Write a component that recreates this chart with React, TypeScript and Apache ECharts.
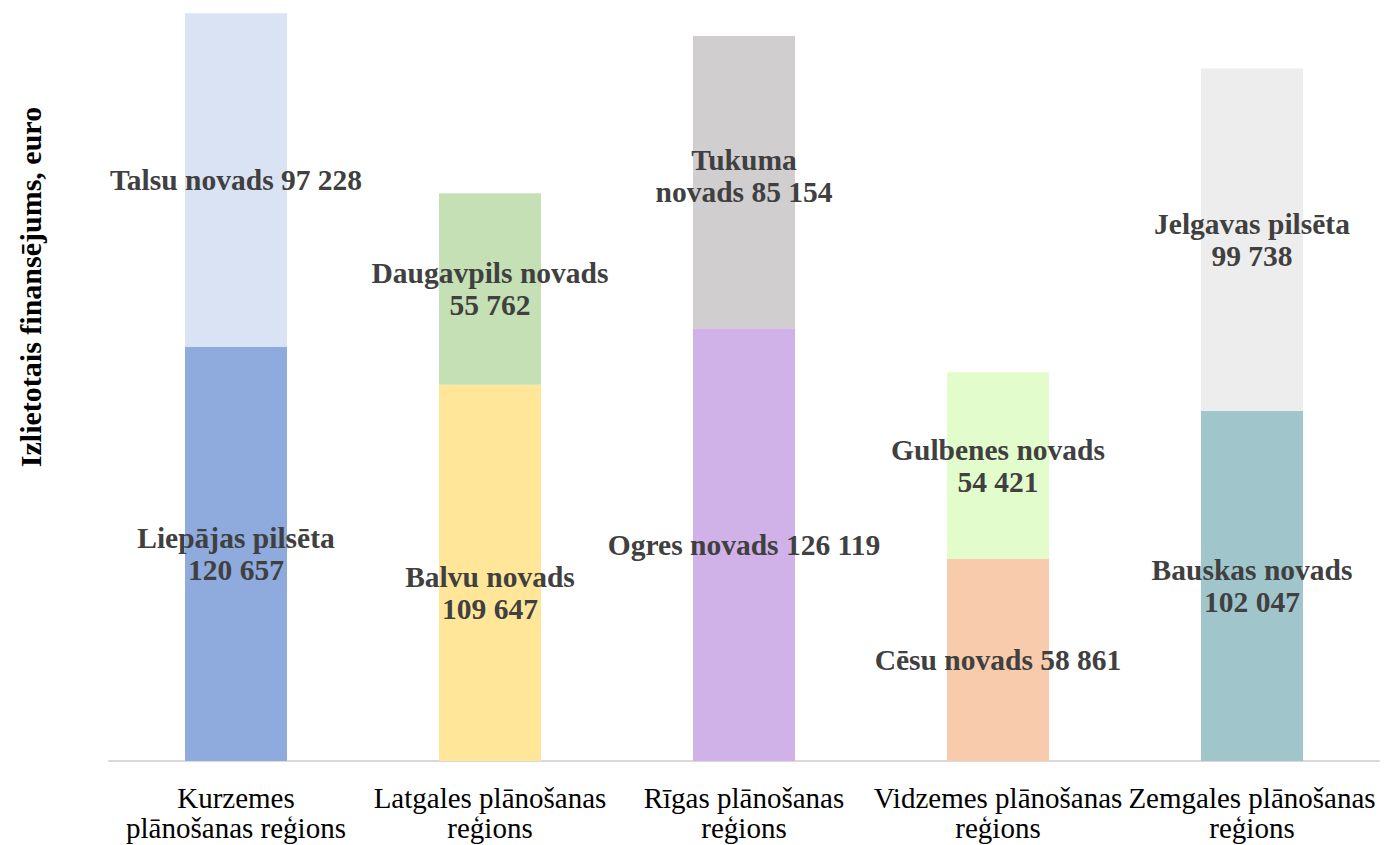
import React, { useEffect, useRef } from "react";
import * as echarts from "echarts";

const categories = [
  "Kurzemes\nplānošanas reģions",
  "Latgales plānošanas\nreģions",
  "Rīgas plānošanas\nreģions",
  "Vidzemes plānošanas\nreģions",
  "Zemgales plānošanas\nreģions",
];

const bottomNames = ["Liepājas pilsēta", "Balvu novads", "Ogres novads", "Cēsu novads", "Bauskas novads"];
const bottomValues = [120657, 109647, 126119, 58861, 102047];
const bottomBreak = [true, true, false, false, true];
const bottomColors = ["#8faadc", "#ffe699", "#d0b1e8", "#f8cbad", "#a0c6cc"];

const topNames = ["Talsu novads", "Daugavpils novads", "Tukuma\nnovads", "Gulbenes novads", "Jelgavas pilsēta"];
const topValues = [97228, 55762, 85154, 54421, 99738];
const topBreak = [false, true, false, true, true];
const topColors = ["#dae3f3", "#c5e0b4", "#d0cece", "#e2fccc", "#ededed"];

const yTitle = "Izlietotais finansējums, euro";

const fmt = (v: number) => String(v).replace(/\B(?=(\d{3})+(?!\d))/g, " ");
const FONT = "'Liberation Serif', 'Times New Roman', serif";

function buildData(names: string[], values: number[], breaks: boolean[], colors: string[], offsets?: number[][]) {
  return values.map((v, i) => ({
    value: v,
    itemStyle: { color: colors[i] },
    label: {
      formatter: names[i] + (breaks[i] ? "\n" : " ") + fmt(v),
      offset: offsets ? offsets[i] : [0, 0],
    },
  }));
}

export default function App() {
  const ref = useRef<HTMLDivElement>(null);
  useEffect(() => {
    if (!ref.current) return;
    const chart = echarts.init(ref.current, undefined, { renderer: "svg" });
    const labelStyle = {
      show: true,
      position: "inside",
      color: "#404040",
      fontFamily: FONT,
      fontWeight: "bold",
      fontSize: 29.5,
      lineHeight: 32,
    };
    chart.setOption({
      animation: false,
      backgroundColor: "#ffffff",
      grid: { left: 109, right: 6, top: 6, bottom: 84, containLabel: false },
      xAxis: {
        type: "category",
        data: categories,
        axisLine: { show: true, lineStyle: { color: "#d9d9d9", width: 2 } },
        axisTick: { show: false },
        axisLabel: {
          color: "#000000",
          fontFamily: FONT,
          fontSize: 29,
          lineHeight: 30,
          margin: 22,
          interval: 0,
        },
      },
      yAxis: {
        type: "value",
        min: 0,
        max: 220000,
        show: false,
        splitLine: { show: false },
      },
      series: [
        {
          type: "bar",
          stack: "total",
          barWidth: 102,
          data: buildData(bottomNames, bottomValues, bottomBreak, bottomColors, [[0, 0], [0, 20], [0, 0], [0, 0], [0, 0]]),
          label: labelStyle,
        },
        {
          type: "bar",
          stack: "total",
          barWidth: 102,
          data: buildData(topNames, topValues, topBreak, topColors, [[0, 0], [0, 0], [0, -6], [0, 0], [0, 0]]),
          label: labelStyle,
        },
      ],
      graphic: [
        {
          type: "text",
          x: 30,
          y: 287,
          rotation: Math.PI / 2,
          style: {
            text: yTitle,
            fill: "#000000",
            font: "bold 30px " + FONT,
            align: "center",
            verticalAlign: "middle",
          },
        },
      ],
    });
    return () => chart.dispose();
  }, []);
  return (
    <div
      ref={ref}
      style={{ position: "fixed", left: 0, top: 0, width: 1385, height: 845, background: "#fff" }}
    />
  );
}
